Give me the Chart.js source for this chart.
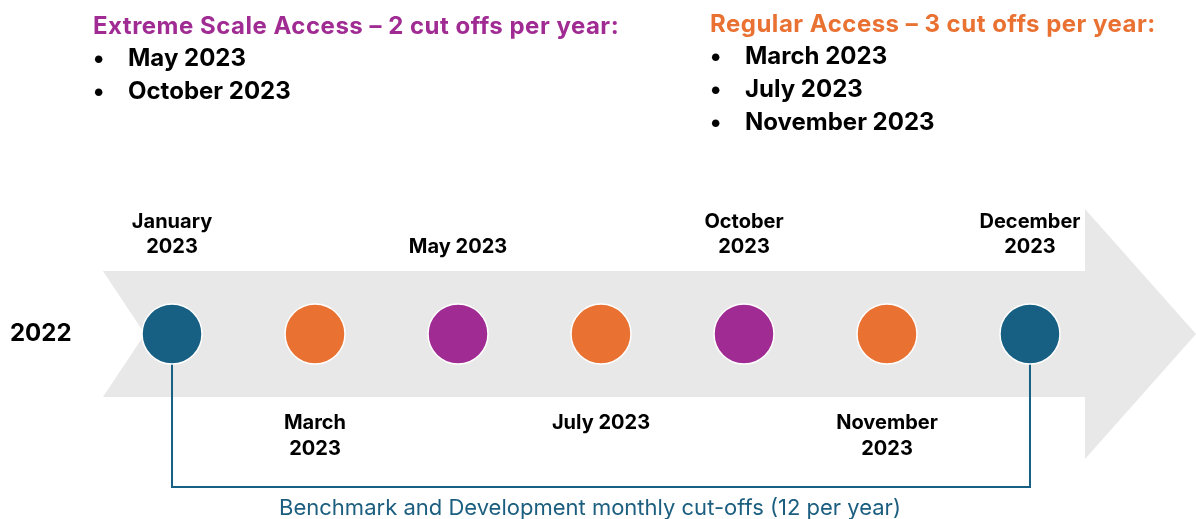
<!DOCTYPE html>
<html lang="en">

<head>
    <meta charset="UTF-8" />
    <title>Cut-off timeline 2023</title>
    <script src="https://cdn.jsdelivr.net/npm/chart.js@4.4.1/dist/chart.umd.min.js"></script>
    <style>
        body { margin: 0; background: #fff; font-family: Inter, "Noto Sans", sans-serif; }
        #wrap { position: relative; width: 1196px; height: 519px; overflow: hidden; }
        #chart { position: absolute; left: 0; top: 0; }
        .box { position: absolute; font-weight: 700; }
        .box h2 { margin: 0; font-size: 24px; line-height: 30px; letter-spacing: 0.5px; white-space: nowrap; }
        .box ul { margin: 0; padding: 0; list-style: none; }
        .box li { position: relative; font-size: 24px; line-height: 33px; padding-left: 35px; color: #000; letter-spacing: 0px; white-space: nowrap; }
        .box li::before { content: "\2022"; position: absolute; left: 0; }
        #caption { position: absolute; left: 0; width: 1180px; top: 494px; text-align: center; font-size: 22px; color: #1b5e7f; white-space: nowrap; }
    </style>
</head>

<body>
    <div id="wrap">
        <canvas id="chart" width="1196" height="519"></canvas>
        <div class="box" id="extreme" style="left:93px; top:11px;"></div>
        <div class="box" id="regular" style="left:710px; top:9px;"></div>
        <div id="caption"></div>
    </div>

    <script>
        // milestones along the arrow
        const milestones = ['January 2023', 'March 2023', 'May 2023', 'July 2023', 'October 2023', 'November 2023', 'December 2023'];
        const labelLines = [['January', '2023'], ['March', '2023'], ['May 2023'], ['July 2023'], ['October', '2023'], ['November', '2023'], ['December', '2023']];
        const accessType = ['monthly', 'regular', 'extreme', 'regular', 'extreme', 'regular', 'monthly'];
        const startYear = '2022';

        // the two lists at the top
        const extremeTitle = 'Extreme Scale Access \u2013 2 cut offs per year:';
        const extremeDates = ['May 2023', 'October 2023'];
        const regularTitle = 'Regular Access \u2013 3 cut offs per year:';
        const regularDates = ['March 2023', 'July 2023', 'November 2023'];
        const monthlyCaption = 'Benchmark and Development monthly cut-offs (12 per year)';

        const colors = { monthly: '#176083', regular: '#e97132', extreme: '#a02b93' };

        function fillBox(id, title, dates, color) {
            const box = document.getElementById(id);
            const h = document.createElement('h2');
            h.textContent = title;
            h.style.color = color;
            box.appendChild(h);
            const ul = document.createElement('ul');
            dates.forEach(d => {
                const li = document.createElement('li');
                li.textContent = d;
                ul.appendChild(li);
            });
            box.appendChild(ul);
        }
        fillBox('extreme', extremeTitle, extremeDates, colors.extreme);
        fillBox('regular', regularTitle, regularDates, colors.regular);
        document.getElementById('caption').textContent = monthlyCaption;

        // grey arrow, the monthly bracket, and the text round the points
        const timelinePlugin = {
            id: 'timeline',
            beforeDatasetsDraw(chart) {
                const { ctx, scales: { x, y } } = chart;
                const last = milestones.length - 1;
                ctx.save();
                // arrow body
                ctx.fillStyle = '#e8e8e8';
                ctx.beginPath();
                ctx.moveTo(x.getPixelForValue(-0.483), y.getPixelForValue(63));
                ctx.lineTo(x.getPixelForValue(6.385), y.getPixelForValue(63));
                ctx.lineTo(x.getPixelForValue(6.385), y.getPixelForValue(125));
                ctx.lineTo(x.getPixelForValue(7.161), y.getPixelForValue(0));
                ctx.lineTo(x.getPixelForValue(6.385), y.getPixelForValue(-125));
                ctx.lineTo(x.getPixelForValue(6.385), y.getPixelForValue(-63));
                ctx.lineTo(x.getPixelForValue(-0.483), y.getPixelForValue(-63));
                ctx.lineTo(x.getPixelForValue(-0.19), y.getPixelForValue(0));
                ctx.closePath();
                ctx.fill();
                // bracket joining first and last monthly cut-off
                ctx.strokeStyle = colors.monthly;
                ctx.lineWidth = 2;
                ctx.beginPath();
                ctx.moveTo(x.getPixelForValue(0), y.getPixelForValue(-30));
                ctx.lineTo(x.getPixelForValue(0), y.getPixelForValue(-153));
                ctx.lineTo(x.getPixelForValue(last), y.getPixelForValue(-153));
                ctx.lineTo(x.getPixelForValue(last), y.getPixelForValue(-30));
                ctx.stroke();
                ctx.restore();
            },
            afterDatasetsDraw(chart) {
                const { ctx, scales: { x, y } } = chart;
                ctx.save();
                ctx.fillStyle = '#000';
                ctx.textAlign = 'center';
                ctx.textBaseline = 'middle';
                ctx.font = 'bold 20px Inter, "Noto Sans", sans-serif';
                labelLines.forEach((lines, i) => {
                    const px = x.getPixelForValue(i);
                    const above = i % 2 === 0;
                    lines.forEach((t, k) => {
                        // above: last line sits 87 over the track; below: first line 89 under it
                        const off = above ? 87 + (lines.length - 1 - k) * 25.5 : -89 - k * 25.5;
                        ctx.fillText(t, px, y.getPixelForValue(off));
                    });
                });
                ctx.font = 'bold 24px Inter, "Noto Sans", sans-serif';
                ctx.textAlign = 'left';
                ctx.fillText(startYear, 10, y.getPixelForValue(0));
                ctx.restore();
            }
        };

        const ctx = document.getElementById('chart').getContext('2d');
        new Chart(ctx, {
            type: 'scatter',
            data: {
                datasets: [{
                    label: 'Cut-offs',
                    data: milestones.map((m, i) => ({ x: i, y: 0 })),
                    pointRadius: 30,
                    pointBackgroundColor: accessType.map(t => colors[t]),
                    pointBorderColor: '#ffffff',
                    pointBorderWidth: 1.5,
                    clip: false
                }]
            },
            options: {
                responsive: false,
                animation: false,
                layout: { padding: 0, autoPadding: false },
                plugins: { legend: { display: false }, tooltip: { enabled: false } },
                scales: {
                    x: { type: 'linear', min: -1.203, max: 7.161, display: false },
                    y: { type: 'linear', min: -185, max: 334, display: false }
                }
            },
            plugins: [timelinePlugin]
        });
    </script>
</body>

</html>
